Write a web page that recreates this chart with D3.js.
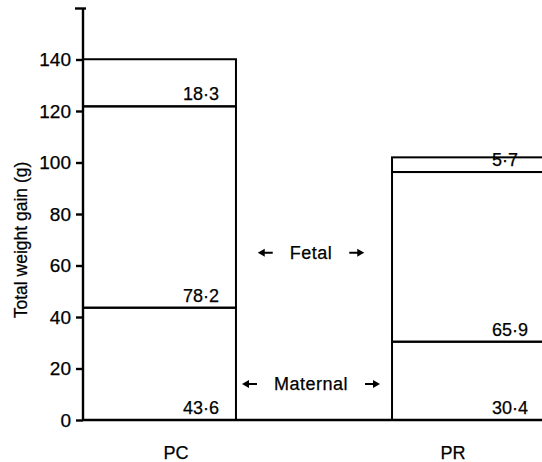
<!DOCTYPE html>
<html lang="en">
<head>
    <meta charset="UTF-8">
    <title>Total weight gain</title>
    <script src="https://d3js.org/d3.v7.min.js"></script>
    <style>
        body { margin: 0; background: #fff; }
        svg { display: block; font-family: "Liberation Sans", Arial, sans-serif; }
        svg text { fill: #000; stroke: #000; stroke-width: 0.25px; }
        .axis path, .axis line { stroke: #000; stroke-width: 2.4px; }
        .axis text { font-size: 19px; }
        .seg { fill: none; stroke: #000; stroke-width: 2px; }
        .val { font-size: 18px; }
        .cat { font-size: 18px; }
        .note { font-size: 18px; letter-spacing: 0.5px; }
    </style>
</head>
<body>
    <div id="chart"></div>
    <script>
        // data
        var groups = ["PC", "PR"];
        var maternal = [43.6, 30.4];
        var fetal = [78.2, 65.9];
        var other = [18.3, 5.7];
        var yTicks = [0, 20, 40, 60, 80, 100, 120, 140, 160];
        var notes = [{ text: "Fetal", at: 65 }, { text: "Maternal", at: 14 }];

        var W = 542, H = 462;
        var margin = { left: 83, top: 8, bottom: 42 };

        var svg = d3.select("#chart").append("svg")
            .attr("width", W)
            .attr("height", H);

        var x = d3.scaleBand()
            .domain(groups)
            .range([margin.left, 545])
            .paddingInner(0.505)
            .paddingOuter(0);

        var y = d3.scaleLinear()
            .domain([0, 160])
            .range([H - margin.bottom, margin.top]);

        // build stacked segments
        var segs = [];
        groups.forEach(function (g, i) {
            var base = 0;
            [maternal[i], fetal[i], other[i]].forEach(function (v) {
                segs.push({ group: g, y0: base, y1: base + v, value: v });
                base += v;
            });
        });

        svg.selectAll("rect.seg")
            .data(segs)
            .enter().append("rect")
            .attr("class", "seg")
            .attr("x", function (d) { return x(d.group); })
            .attr("width", x.bandwidth())
            .attr("y", function (d) { return y(d.y1); })
            .attr("height", function (d) { return y(d.y0) - y(d.y1); });

        svg.selectAll("text.val")
            .data(segs)
            .enter().append("text")
            .attr("class", "val")
            .attr("x", function (d) { return x(d.group) + 100; })
            .attr("y", function (d) { return y(d.y0) - 6; })
            .text(function (d) { return d.value.toFixed(1).replace(".", "\u00b7"); });

        // y axis
        var yAxis = svg.append("g")
            .attr("class", "axis")
            .attr("transform", "translate(" + margin.left + ",0)")
            .call(d3.axisLeft(y)
                .tickValues(yTicks)
                .tickSize(7)
                .tickPadding(5)
                .tickSizeOuter(0)
                .tickFormat(function (d) { return d === 160 ? "" : d; }));
        yAxis.select(".domain").attr("d", "M0," + y(160) + "V" + y(0));
        yAxis.selectAll(".tick")
            .filter(function (d) { return d === 160; })
            .select("line").attr("x1", 3).attr("x2", -8);

        // baseline
        svg.append("line")
            .attr("x1", margin.left).attr("x2", W)
            .attr("y1", y(0)).attr("y2", y(0))
            .attr("stroke", "#000").attr("stroke-width", 2.6);

        svg.append("text")
            .attr("transform", "translate(27," + ((y(0) + y(160)) / 2 + 26) + ") rotate(-90)")
            .attr("text-anchor", "middle")
            .style("font-size", "17.5px")
            .text("Total weight gain (g)");

        // category labels (hand placed in the original)
        var catShift = { PC: 93, PR: 61 };
        svg.selectAll("text.cat")
            .data(groups)
            .enter().append("text")
            .attr("class", "cat")
            .attr("x", function (d) { return x(d) + catShift[d]; })
            .attr("y", y(0) + 39)
            .attr("text-anchor", "middle")
            .text(function (d) { return d; });

        // Fetal / Maternal notes with arrows in the gap
        var cx = x("PC") + x.bandwidth() + (x("PR") - x("PC") - x.bandwidth()) / 2 - 3;
        function arrow(x0, yy, dir) {
            // dir -1 points left, +1 points right; x0 = tip
            var len = 15, hl = 7, hw = 4;
            return "M" + x0 + "," + yy +
                "L" + (x0 - dir * hl) + "," + (yy - hw) +
                "L" + (x0 - dir * hl) + "," + (yy - 1) +
                "L" + (x0 - dir * len) + "," + (yy - 1) +
                "L" + (x0 - dir * len) + "," + (yy + 1) +
                "L" + (x0 - dir * hl) + "," + (yy + 1) +
                "L" + (x0 - dir * hl) + "," + (yy + hw) + "Z";
        }
        notes.forEach(function (n) {
            var yy = y(n.at);
            var t = svg.append("text")
                .attr("class", "note")
                .attr("x", cx)
                .attr("y", yy + 6)
                .attr("text-anchor", "middle")
                .text(n.text);
            var half = t.node().getComputedTextLength() / 2;
            var gap = 17;
            svg.append("path")
                .attr("d", arrow(cx - half - gap - 15, yy, -1))
                .attr("fill", "#000");
            svg.append("path")
                .attr("d", arrow(cx + half + gap + 15, yy, 1))
                .attr("fill", "#000");
        });
    </script>
</body>
</html>
